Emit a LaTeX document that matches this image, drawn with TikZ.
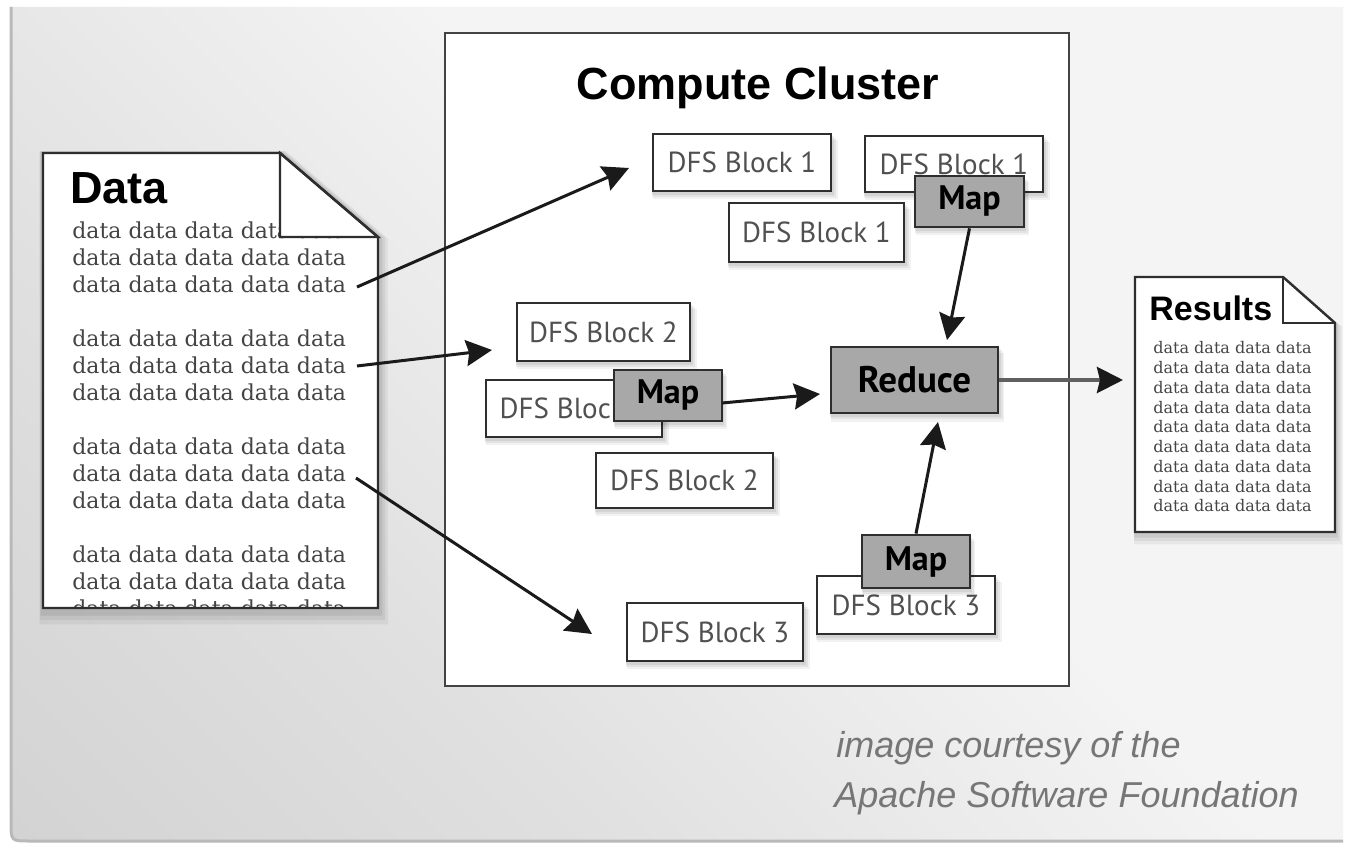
\documentclass[tikz,border=0pt]{standalone}
\usepackage{fontspec}
\setmainfont{Liberation Sans}
\newfontfamily\headfont{Liberation Sans}
\newfontfamily\blockfont{PT Sans}
\newfontfamily\datafont{DejaVu Serif}
\usetikzlibrary{arrows.meta,shadows,calc}

\definecolor{bgdark}{HTML}{C9C9C9}
\definecolor{bgmid}{HTML}{E0E0E0}
\definecolor{bglight}{HTML}{F4F4F4}
\definecolor{boxline}{HTML}{2E2E2E}
\definecolor{mapfill}{HTML}{A8A8A8}
\definecolor{dfstext}{HTML}{505050}
\definecolor{datatext}{HTML}{444444}
\definecolor{arrowc}{HTML}{1A1A1A}
\definecolor{credit}{HTML}{767676}

\pgfdeclarehorizontalshading{panelshade}{100bp}{%
  color(0bp)=(bgdark); color(34bp)=(bgmid); color(56bp)=(bglight); color(100bp)=(bglight)}

% box with corners given in pixel coordinates
\newcommand\pbox[7]{%
  \node[#1, minimum width={(#5-#3)*0.5pt}, minimum height={(#6-#4)*0.5pt}]
    (#2) at ({(#3+#5)/2},{(#4+#6)/2}) {#7};}

\tikzset{
  softshadow/.style={
    general shadow={fill=black,opacity=.07,shadow xshift=0.5pt,shadow yshift=-1.5pt,shadow scale=1.02},
    general shadow={fill=black,opacity=.06,shadow xshift=1pt,shadow yshift=-2.5pt,shadow scale=1.03},
    general shadow={fill=black,opacity=.05,shadow xshift=1.5pt,shadow yshift=-3.5pt,shadow scale=1.04}},
  dfs/.style={draw=boxline, line width=1.4pt, fill=white, inner sep=0pt, softshadow,
    font=\blockfont\fontsize{14.5}{16}\selectfont, text=dfstext},
  mapbox/.style={draw=boxline, line width=1.4pt, fill=mapfill, inner sep=0pt, softshadow,
    font=\blockfont\bfseries\fontsize{17}{18}\selectfont, text=black},
  reducebox/.style={mapbox, font=\blockfont\bfseries\fontsize{18.5}{20}\selectfont},
  docline/.style={draw=boxline, line width=1.2pt},
  dataline/.style={anchor=west, inner sep=0pt, text=datatext,
    font=\datafont\fontsize{11}{12}\selectfont},
  resline/.style={anchor=west, inner sep=0pt, text=datatext,
    font=\datafont\fontsize{8}{9}\selectfont},
  flow/.style={draw=arrowc, line width=1.5pt,
    -{Stealth[length=13pt,width=13pt,inset=1.5pt]}},
  outflow/.style={draw=gray!75!black, line width=2pt,
    -{Stealth[length=13pt,width=13pt,inset=1.5pt,color=arrowc]}},
}

\begin{document}
\begin{tikzpicture}[x=0.5pt,y=-0.5pt]
\useasboundingbox (0,0) rectangle (1345,845);
\fill[white] (0,0) rectangle (1345,845);

% backdrop panel
\shade[shading=panelshade, shading angle=45]
  (10,7) -- (1343,7) -- (1343,842) -- (30,842) .. controls (10,842) .. (10,822) -- cycle;
\draw[draw=gray!55, line width=1.5pt]
  (11,7) -- (11,822) .. controls (11,841) .. (30,841) -- (1343,841);

% compute cluster frame
\node[draw=boxline!90, line width=1.3pt, fill=white, inner sep=0pt,
      minimum width={(1069-445)*0.5pt}, minimum height={(686-33)*0.5pt}]
  (cluster) at ({(445+1069)/2},{(33+686)/2}) {};
\node[anchor=base, inner sep=0pt, font=\headfont\bfseries\fontsize{22.5}{26}\selectfont]
  (ctitle) at (758,100) {Compute Cluster};

% DFS block 1 replicas
\pbox{dfs}{b1a}{653}{134}{831}{191}{DFS Block 1}
\pbox{dfs}{b1b}{865}{136}{1043}{192}{DFS Block 1}
\pbox{dfs}{b1c}{729}{203}{904}{262}{DFS Block 1}
\pbox{mapbox}{map1}{915}{176}{1024}{227}{Map}

% DFS block 2 replicas
\pbox{dfs}{b2a}{517}{303}{690}{361}{DFS Block 2}
\pbox{dfs}{b2b}{486}{380}{662}{437}{DFS Block 2}
\pbox{mapbox}{map2}{614}{370}{722}{421}{Map}
\pbox{dfs}{b2c}{596}{453}{773}{508}{DFS Block 2}

% reducer
\pbox{reducebox}{reduce}{831}{347}{998}{413}{Reduce}

% DFS block 3 replicas
\pbox{dfs}{b3b}{817}{576}{995}{634}{DFS Block 3}
\pbox{mapbox}{map3}{862}{535}{970}{588}{Map}
\pbox{dfs}{b3a}{627}{603}{803}{661}{DFS Block 3}

% input document
\fill[white, softshadow] (43,153) -- (280,153) -- (378,237) -- (378,608) -- (43,608) -- cycle;
\begin{scope}
  \clip (43,153) rectangle (378,607);
  \foreach \yy [count=\i] in {230,257,284,338,365,392,446,473,500,554,581,608}
    \node[dataline] (drow\i) at (72,\yy) {data data data data data};
\end{scope}
\filldraw[fill=white, docline] (280,153) -- (378,237) -- (280,237) -- cycle;
\draw[docline] (43,153) -- (280,153) -- (378,237) -- (378,608) -- (43,608) -- cycle;
\node[anchor=base west, inner sep=0pt, font=\headfont\bfseries\fontsize{22.5}{26}\selectfont]
  (dtitle) at (70,204) {Data};

% output document
\fill[white, softshadow] (1135,277) -- (1283,277) -- (1335,323) -- (1335,532) -- (1135,532) -- cycle;
\foreach \k in {0,...,8}
  \node[resline] (rrow\k) at (1153,{348+19.75*\k}) {data data data data};
\draw[docline] (1135,277) -- (1283,277) -- (1335,323) -- (1335,532) -- (1135,532) -- cycle;
\draw[docline] (1283,277) -- (1283,323) -- (1335,323);
\node[anchor=base west, inner sep=0pt, font=\headfont\bfseries\fontsize{17}{20}\selectfont]
  (rtitle) at (1149,321) {Results};

% connector end points
\coordinate (s1) at (357,287);
\coordinate (s2) at (357,366);
\coordinate (s3) at (356,478);
\coordinate (t1) at (629,168);
\coordinate (t2) at (492,350);
\coordinate (t3) at (592,634);
\coordinate (rin1) at (947,340);
\coordinate (rin2) at (820,394);
\coordinate (rin3) at (938,422);
\coordinate (m2out) at (722,403);
\coordinate (resin) at (1135,380);

% splits handed to the cluster
\draw[flow] (s1) -- (t1);
\draw[flow] (s2) -- (t2);
\draw[flow] (s3) -- (t3);

% map outputs into the reducer
\draw[flow] (map1.south) -- (rin1);
\draw[flow] (m2out) -- (rin2);
\draw[flow] (map3.north) -- (rin3);

% reducer output
\draw[outflow, shorten >=6pt] (reduce.east) -- (reduce.east -| resin);

% credit line
\node[anchor=base west, inner sep=0pt, text=credit,
      font=\headfont\itshape\fontsize{18}{20}\selectfont] (cr1) at (836,757) {image courtesy of the};
\node[anchor=base west, inner sep=0pt, text=credit,
      font=\headfont\itshape\fontsize{18}{20}\selectfont] (cr2) at (834,807) {Apache Software Foundation};
\end{tikzpicture}
\end{document}
